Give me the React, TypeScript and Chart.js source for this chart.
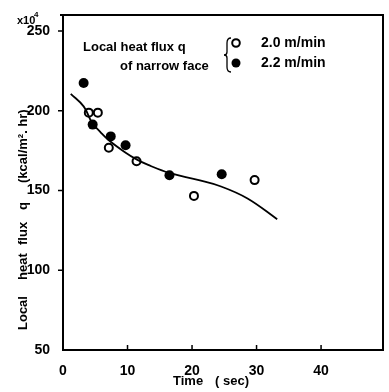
import React, { useEffect, useRef } from "react";
import { Chart, registerables } from "chart.js";
Chart.register(...registerables);

const xTickValues = [0, 10, 20, 30, 40];
const yTickValues = [50, 100, 150, 200, 250];
const openTime = [4.0, 5.4, 7.1, 11.4, 20.3, 29.7];
const openFlux = [198.8, 198.8, 176.8, 168.3, 146.6, 156.5];
const filledTime = [3.2, 4.6, 7.4, 9.7, 16.5, 24.6];
const filledFlux = [217.4, 191.3, 183.9, 178.3, 159.6, 160.2];
const curveTime = [1.2, 3.2, 4.5, 5.8, 7.1, 9.6, 11.4, 13.2, 16.5, 20.9, 24.5, 28.6, 33.2];
const curveFlux = [210.6, 202.7, 192.5, 186.6, 181.5, 174, 169.5, 166, 161, 156.6, 152.5, 145, 132];
const legendTitle = ["Local heat flux q", "of narrow face"];
const seriesLabels = ["2.0 m/min", "2.2 m/min"];
const yTitleWords = ["Local", "heat", "flux", "q", "(kcal/m\u00B2. hr)"];
const xTitleWords = ["Time", "( sec)"];

const FONT = "'Liberation Sans', Arial, sans-serif";

const decorPlugin = {
  id: "decor",
  afterDatasetsDraw(chart: any) {
    const ctx = chart.ctx as CanvasRenderingContext2D;
    const { left, right, top, bottom } = chart.chartArea;
    const xs = chart.scales.x;
    const ys = chart.scales.y;
    ctx.save();
    ctx.strokeStyle = "#000";
    ctx.fillStyle = "#000";
    // frame
    ctx.lineWidth = 2;
    ctx.beginPath();
    ctx.moveTo(left - 3, top);
    ctx.lineTo(right, top);
    ctx.lineTo(right, bottom);
    ctx.lineTo(left, bottom);
    ctx.lineTo(left, top);
    ctx.stroke();
    // ticks
    ctx.lineWidth = 1.5;
    ctx.beginPath();
    for (const v of yTickValues) {
      if (v === ys.min) continue;
      const y = ys.getPixelForValue(v);
      ctx.moveTo(left - 5, y);
      ctx.lineTo(left, y);
    }
    for (const v of xTickValues) {
      if (v === xs.min) continue;
      const x = xs.getPixelForValue(v);
      ctx.moveTo(x, bottom);
      ctx.lineTo(x, bottom - 5);
    }
    ctx.stroke();

    // x10^4
    ctx.font = `bold 11px ${FONT}`;
    ctx.textAlign = "left";
    ctx.textBaseline = "middle";
    ctx.fillText("x10", 17, 21);
    ctx.font = `bold 8px ${FONT}`;
    ctx.fillText("4", 34, 15);

    // y title
    const yPos = [330, 280, 245, 210, 183];
    ctx.font = `bold 13px ${FONT}`;
    yTitleWords.forEach((w, i) => {
      ctx.save();
      ctx.translate(23, yPos[i]);
      ctx.rotate(-Math.PI / 2);
      ctx.textAlign = "left";
      ctx.textBaseline = "middle";
      ctx.fillText(w, 0, 0);
      ctx.restore();
    });

    // x title
    ctx.font = `bold 13px ${FONT}`;
    ctx.textAlign = "left";
    ctx.textBaseline = "middle";
    ctx.fillText(xTitleWords[0], 173, 381);
    ctx.fillText(xTitleWords[1], 215, 381);

    // legend
    ctx.font = `bold 13px ${FONT}`;
    ctx.fillText(legendTitle[0], 83, 47);
    ctx.fillText(legendTitle[1], 120, 66);
    // brace
    ctx.lineWidth = 1.3;
    ctx.beginPath();
    ctx.moveTo(231, 38);
    ctx.quadraticCurveTo(227, 38, 227, 43);
    ctx.lineTo(227, 52);
    ctx.quadraticCurveTo(227, 55, 224, 55);
    ctx.quadraticCurveTo(227, 55, 227, 58);
    ctx.lineTo(227, 67);
    ctx.quadraticCurveTo(227, 72, 231, 72);
    ctx.stroke();
    // markers
    ctx.lineWidth = 2;
    ctx.beginPath();
    ctx.arc(236, 43, 3.8, 0, Math.PI * 2);
    ctx.fillStyle = "#fff";
    ctx.fill();
    ctx.stroke();
    ctx.beginPath();
    ctx.arc(236, 63, 4.5, 0, Math.PI * 2);
    ctx.fillStyle = "#000";
    ctx.fill();
    ctx.font = `bold 14px ${FONT}`;
    ctx.fillText(seriesLabels[0], 261, 43);
    ctx.fillText(seriesLabels[1], 261, 63);
    ctx.restore();
  },
};

export default function App() {
  const ref = useRef<HTMLCanvasElement>(null);
  useEffect(() => {
    if (!ref.current) return;
    const chart = new Chart(ref.current, {
      type: "scatter",
      data: {
        datasets: [
          {
            type: "line",
            label: "fit",
            data: curveTime.map((t, i) => ({ x: t, y: curveFlux[i] })),
            borderColor: "#000",
            borderWidth: 1.8,
            pointRadius: 0,
            tension: 0.4,
            fill: false,
          } as any,
          {
            label: seriesLabels[0],
            data: openTime.map((t, i) => ({ x: t, y: openFlux[i] })),
            backgroundColor: "#fff",
            borderColor: "#000",
            borderWidth: 2,
            pointRadius: 4,
          },
          {
            label: seriesLabels[1],
            data: filledTime.map((t, i) => ({ x: t, y: filledFlux[i] })),
            backgroundColor: "#000",
            borderColor: "#000",
            borderWidth: 0,
            pointRadius: 5,
          },
        ],
      },
      options: {
        responsive: false,
        animation: false,
        layout: { padding: { left: 0, top: 15, right: 2, bottom: 0 } },
        plugins: { legend: { display: false }, tooltip: { enabled: false } },
        scales: {
          x: {
            type: "linear",
            min: 0,
            max: 49.6,
            afterFit: (s: any) => { s.height = 42; },
            border: { display: false },
            grid: { display: false },
            ticks: {
              includeBounds: false,
              stepSize: 10,
              padding: 5,
              color: "#000",
              font: { family: FONT, size: 14, weight: "bold" },
            },
          },
          y: {
            type: "linear",
            min: 50,
            max: 260,
            afterFit: (s: any) => { s.width = 63; },
            border: { display: false },
            grid: { display: false },
            ticks: {
              includeBounds: false,
              stepSize: 50,
              padding: 5,
              color: "#000",
              font: { family: FONT, size: 14, weight: "bold" },
            },
          },
        },
      },
      plugins: [decorPlugin],
    } as any);
    return () => chart.destroy();
  }, []);
  return (
    <canvas
      ref={ref}
      width={389}
      height={392}
      style={{ position: "absolute", left: 0, top: 0, display: "block", background: "#fff" }}
    />
  );
}
